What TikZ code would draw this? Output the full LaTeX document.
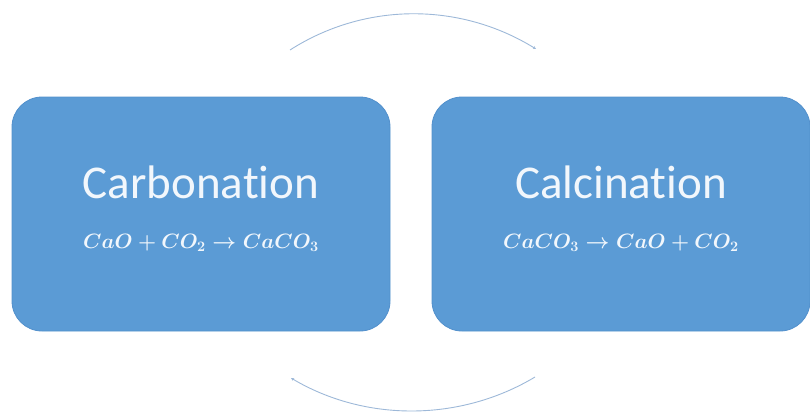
\documentclass[tikz,border=0pt]{standalone}
\usepackage{fontspec}
\setmainfont{Carlito}[Ligatures=NoCommon]
\usetikzlibrary{arrows.meta}
\definecolor{boxblue}{HTML}{5B9BD5}
\definecolor{boxedge}{HTML}{5290CC}
\definecolor{arcblue}{HTML}{9DB8D8}
\definecolor{txt}{HTML}{F2F7FC}
\tikzset{
  stagebox/.style={rounded corners=30pt, fill=boxblue, draw=boxedge, line width=0.8pt,
    minimum width=378pt, minimum height=234pt, inner sep=0pt},
  title/.style={text=txt, font=\fontsize{47}{52}\selectfont, inner sep=0pt},
  eqn/.style={text=txt, font=\fontsize{21}{26}\selectfont\boldmath, inner sep=0pt},
  cycle/.style={arcblue, line width=0.9pt, -{Stealth[length=3pt,width=3pt]}}
}
\begin{document}
\begin{tikzpicture}[x=1pt,y=-1pt]
\useasboundingbox (0,0) rectangle (810,415);
\node[stagebox] (carb) at (201,214) {};
\node[stagebox] (calc) at (621,214) {};
\node[title] (carbt) at (201,182) {Carbonation};
\node[eqn] (carbe) at (201,243) {$CaO + CO_2 \rightarrow CaCO_3$};
\node[title] (calct) at (621,182) {Calcination};
\node[eqn] (calce) at (621,243) {$CaCO_3 \rightarrow CaO + CO_2$};
\coordinate (t1) at (290,50);
\coordinate (t2) at (536,49);
\coordinate (b1) at (535,377);
\coordinate (b2) at (291,378);
\draw[cycle] (t1) .. controls (365,2) and (460,2) .. (t2);
\draw[cycle] (b1) .. controls (460,422) and (365,422) .. (b2);
\end{tikzpicture}
\end{document}
